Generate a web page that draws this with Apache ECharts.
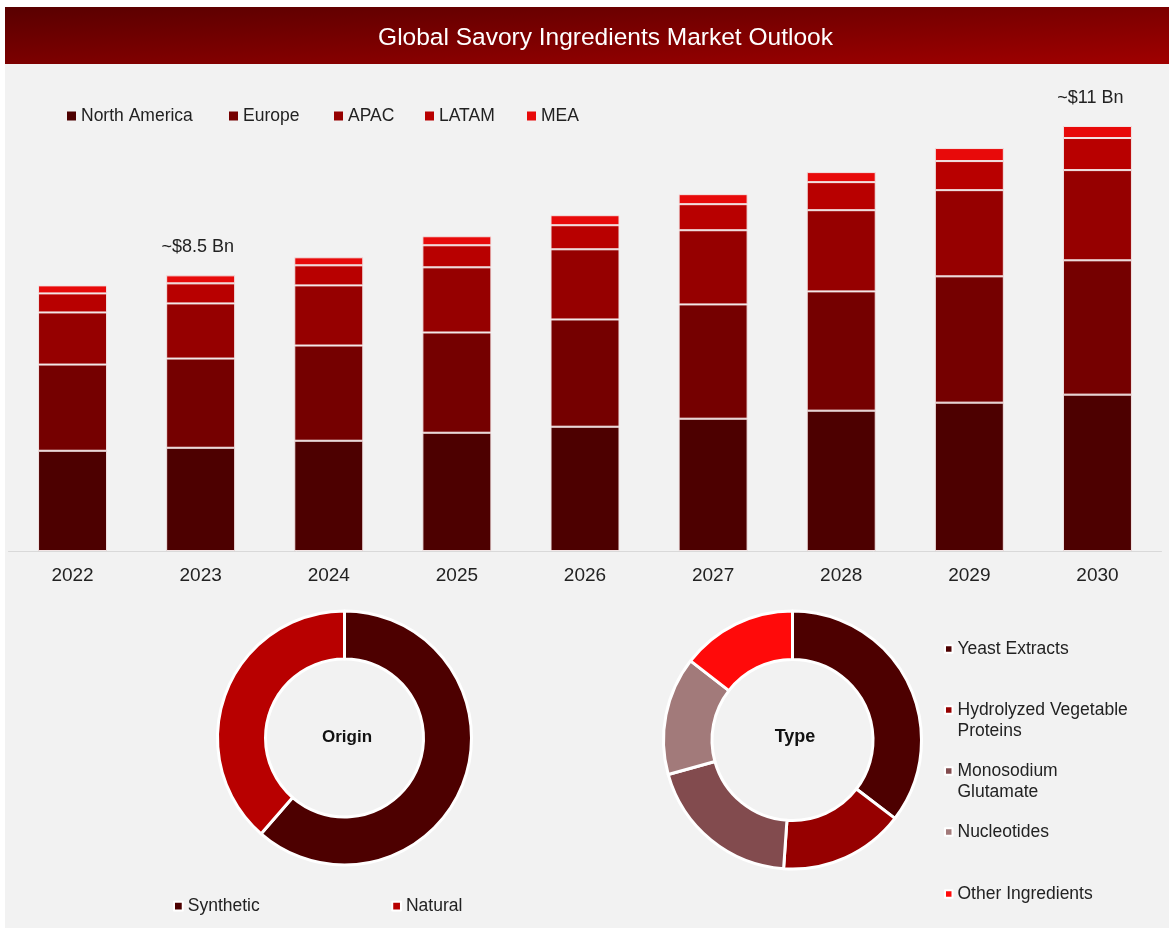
<!DOCTYPE html>
<html>
<head>
<meta charset="utf-8">
<style>
  html, body { margin: 0; padding: 0; background: #fff; }
  #main { width: 1174px; height: 934px; }
</style>
<script src="https://cdn.jsdelivr.net/npm/echarts@6/dist/echarts.min.js"></script>
</head>
<body>
<div id="main"></div>
<script>
// values, the bars have no printed scale so these are relative heights
var years = ['2022', '2023', '2024', '2025', '2026', '2027', '2028', '2029', '2030'];
var northAmerica = [100, 103, 110, 118, 124, 132, 140, 148, 156];
var europe = [86, 89, 95, 100, 107, 114, 119, 126, 134];
var apac = [52, 55, 60, 65, 70, 74, 81, 86, 90];
var latam = [19, 20, 20, 22, 24, 26, 28, 29, 32];
var mea = [8, 8, 8, 9, 10, 10, 10, 13, 12];
var regionNames = ['North America', 'Europe', 'APAC', 'LATAM', 'MEA'];
var regionColors = ['#4d0000', '#750000', '#960000', '#b80000', '#e80a0a'];
var totalLabels = ['', '~$8.5 Bn', '', '', '', '', '', '', '~$11 Bn'];

var originNames = ['Synthetic', 'Natural'];
var originValues = [61.4, 38.6];
var originColors = ['#4d0000', '#b80000'];

var typeNames = ['Yeast Extracts', 'Hydrolyzed Vegetable\nProteins', 'Monosodium\nGlutamate', 'Nucleotides', 'Other Ingredients'];
var typeValues = [35.4, 15.7, 19.6, 14.8, 14.5];
var typeColors = ['#4d0000', '#960000', '#824b4e', '#a27a7a', '#ff0a0a'];

var FONT = '"Liberation Sans"';
var TEXT = '#222222';

var chart = echarts.init(document.getElementById('main'));

var regionData = [northAmerica, europe, apac, latam, mea];

var barSeries = regionNames.map(function (name, i) {
  return {
    name: name,
    type: 'bar',
    stack: 'total',
    barWidth: 69,
    itemStyle: { color: regionColors[i], borderColor: '#f2e4e4', borderWidth: 1 },
    data: regionData[i].map(function (v, j) {
      // 总量标注挂在最上面一段
      if (i === 4 && totalLabels[j]) {
        return {
          value: v,
          label: {
            show: true,
            position: 'top',
            distance: 19,
            offset: [j === 1 ? -3 : -7, 0],
            formatter: totalLabels[j],
            fontFamily: FONT,
            fontSize: 18,
            color: TEXT
          }
        };
      }
      return v;
    })
  };
});

function pieSeries(names, values, colors, center, radius) {
  return {
    type: 'pie',
    center: center,
    radius: radius,
    startAngle: 90,
    clockwise: true,
    silent: true,
    label: { show: false },
    labelLine: { show: false },
    itemStyle: { borderColor: '#ffffff', borderWidth: 3 },
    data: names.map(function (n, i) {
      return { name: n, value: values[i], itemStyle: { color: colors[i] } };
    })
  };
}

// top legend: one legend per entry, the gaps in the picture do not follow our font widths
var regionLegendX = [67, 229, 334, 425, 527];
var regionLegends = regionNames.map(function (name, i) {
  return {
    left: regionLegendX[i],
    top: 107,
    padding: 0,
    itemWidth: 9,
    itemHeight: 9,
    icon: 'rect',
    selectedMode: false,
    itemStyle: { borderWidth: 0 },
    data: [name],
    textStyle: { fontFamily: FONT, fontSize: 17.5, color: TEXT }
  };
});

// Type legend: one legend per row, rows are evenly spaced and the marker sits on the first line
var typeLegendY = [649, 710, 771, 832, 894];
var typeLegends = typeNames.map(function (name, i) {
  var twoLines = name.indexOf('\n') >= 0;
  return {
    left: 944,
    top: typeLegendY[i] - (twoLines ? 31.5 : 10.5),
    padding: 0,
    itemWidth: 7.5,
    itemHeight: 7.5,
    icon: 'rect',
    selectedMode: false,
    // blank first line keeps the first real line centred on the marker
    formatter: function (n) {
      return n.indexOf('\n') >= 0 ? ' \n' + n : n;
    },
    data: [{
      name: name,
      textStyle: {
        fontFamily: FONT, fontSize: 17.5, color: TEXT, lineHeight: 21
      }
    }]
  };
});

var option = {
  animation: false,
  backgroundColor: '#ffffff',
  textStyle: { fontFamily: FONT },
  graphic: [
    {
      type: 'rect',
      silent: true,
      z: -10,
      shape: { x: 5, y: 64, width: 1164, height: 864 },
      style: { fill: '#f2f2f2' }
    },
    {
      type: 'rect',
      silent: true,
      z: -9,
      shape: { x: 5, y: 7, width: 1164, height: 57 },
      style: {
        // 左上最深，右下最亮
        fill: new echarts.graphic.LinearGradient(5, 7, 10.6, 121, [
          { offset: 0, color: '#590000' },
          { offset: 0.5, color: '#7c0000' },
          { offset: 1, color: '#a00000' }
        ], true)
      }
    }
  ],
  title: [
    {
      text: 'Global Savory Ingredients Market Outlook',
      left: 605.5,
      top: 38,
      padding: 0,
      textAlign: 'center',
      textVerticalAlign: 'middle',
      textStyle: { fontFamily: FONT, fontSize: 24.5, fontWeight: 'normal', color: '#ffffff' }
    },
    {
      text: 'Origin',
      left: 347,
      top: 737,
      padding: 0,
      textAlign: 'center',
      textVerticalAlign: 'middle',
      textStyle: { fontFamily: FONT, fontSize: 17, fontWeight: 'bold', color: '#111111' }
    },
    {
      text: 'Type',
      left: 795,
      top: 737,
      padding: 0,
      textAlign: 'center',
      textVerticalAlign: 'middle',
      textStyle: { fontFamily: FONT, fontSize: 18, fontWeight: 'bold', color: '#111111' }
    }
  ],
  legend: regionLegends.concat([
    {
      left: 173,
      top: 897,
      padding: 0,
      itemWidth: 8.75,
      itemHeight: 8.75,
      itemGap: 131.5,
      icon: 'rect',
      selectedMode: false,
      data: originNames,
      textStyle: { fontFamily: FONT, fontSize: 17.5, color: TEXT }
    }
  ], typeLegends),
  grid: { left: 8.5, top: 126, width: 1153, height: 425 },
  xAxis: {
    type: 'category',
    data: years,
    axisTick: { show: false },
    axisLine: { lineStyle: { color: '#d9d9d9', width: 1 } },
    axisLabel: { fontFamily: FONT, fontSize: 19, color: TEXT, margin: 15 }
  },
  yAxis: {
    type: 'value',
    min: 0,
    max: 424,
    show: false
  },
  series: barSeries.concat([
    pieSeries(originNames, originValues, originColors, [344.5, 738], [79, 127]),
    pieSeries(typeNames, typeValues, typeColors, [792.5, 740], [80.5, 129])
  ])
};

chart.setOption(option);
</script>
</body>
</html>
